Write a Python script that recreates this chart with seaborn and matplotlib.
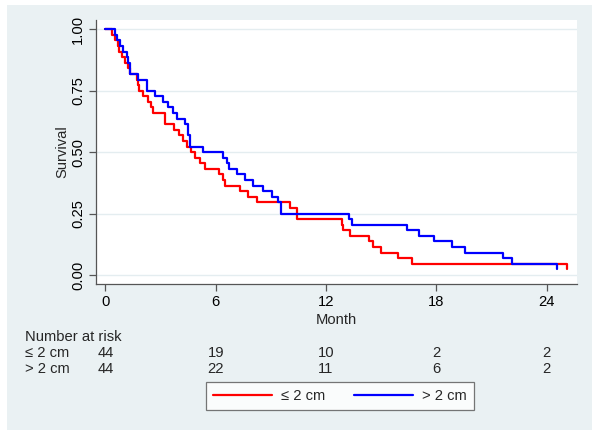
import numpy as np
import pandas as pd
import matplotlib
matplotlib.use("Agg")
import matplotlib.pyplot as plt
import matplotlib.transforms as mtransforms
from matplotlib.lines import Line2D
from matplotlib.patches import Rectangle
import seaborn as sns

N_START = 44

# Kaplan-Meier steps: event time (months) and patients left
red_months = [0, 0.38, 0.52, 0.67, 0.74, 0.88, 1.06, 1.24, 1.34, 1.70, 1.78, 1.85,
              2.06, 2.34, 2.46, 2.61, 3.24, 3.73, 4.00, 4.24, 4.42, 4.64, 4.87, 5.14,
              5.42, 6.19, 6.41, 6.50, 7.32, 7.77, 8.23, 10.04, 10.44, 12.85, 12.94,
              13.30, 14.33, 14.57, 14.99, 15.93, 16.65, 25.08]
red_alive = [44, 43, 42, 41, 40, 39, 38, 37, 36, 35, 34, 33,
             32, 31, 30, 29, 27, 26, 25, 24, 23, 22, 21, 20,
             19, 18, 17, 16, 15, 14, 13, 12, 10, 9, 8,
             7, 6, 5, 4, 3, 2, 1]

blue_months = [0, 0.52, 0.61, 0.79, 0.97, 1.15, 1.24, 1.34, 1.79, 2.24, 2.70, 3.15,
               3.42, 3.66, 3.88, 4.33, 4.51, 4.60, 5.32, 6.41, 6.60, 6.74, 7.14, 7.59,
               8.04, 8.59, 9.04, 9.40, 9.53, 13.26, 13.44, 16.38, 17.05, 17.88, 18.83,
               19.55, 21.64, 22.13, 24.57]
blue_alive = [44, 43, 42, 41, 40, 39, 38, 36, 35, 33, 32, 31,
              30, 29, 28, 27, 25, 23, 22, 21, 20, 19, 18, 17,
              16, 15, 14, 13, 11, 10, 9, 8, 7, 6, 5,
              4, 3, 2, 1]

groups = ["\u2264 2 cm", "> 2 cm"]
colors = ["#FF0000", "#0000FF"]

risk_months = [0, 6, 12, 18, 24]
risk_red = [44, 19, 10, 2, 2]
risk_blue = [44, 22, 11, 6, 2]

df = pd.concat([
    pd.DataFrame({"Month": red_months, "Survival": np.array(red_alive) / N_START, "Group": groups[0]}),
    pd.DataFrame({"Month": blue_months, "Survival": np.array(blue_alive) / N_START, "Group": groups[1]}),
])

sns.set_style("white")
plt.rcParams["font.family"] = ["Liberation Sans", "DejaVu Sans"]
FS = 10.6

BG = "#EAF1F3"
fig = plt.figure(figsize=(6, 4.4), dpi=100)
fig.patch.set_facecolor("white")
# stata-like light panel behind everything
fig.patches.append(Rectangle((7 / 600, 1 - 430 / 440), 585 / 600, 425 / 440,
                             transform=fig.transFigure, facecolor=BG, edgecolor="none", zorder=-1))

ax = fig.add_axes([96 / 600, 1 - 284 / 440, 481 / 600, 264 / 440])
ax.set_facecolor("white")

sns.lineplot(data=df, x="Month", y="Survival", hue="Group", palette=colors,
             drawstyle="steps-post", estimator=None, errorbar=None,
             linewidth=1.6, legend=False, ax=ax)

ax.set_xlim(-0.51, 25.65)
ax.set_ylim(-0.037, 1.038)
ax.set_xticks(risk_months)
ax.set_yticks([0, 0.25, 0.5, 0.75, 1.0])
ax.set_yticklabels(["0.00", "0.25", "0.50", "0.75", "1.00"], rotation=90, va="center")
ax.yaxis.grid(True, color="#E4EDF0", linewidth=1)
ax.xaxis.grid(False)
for side in ["top", "right"]:
    ax.spines[side].set_visible(False)
for side in ["left", "bottom"]:
    ax.spines[side].set_color("#555555")
    ax.spines[side].set_linewidth(0.9)
ax.tick_params(axis="both", direction="out", length=5, width=0.9, color="#555555",
               labelsize=FS, labelcolor="black", left=True, bottom=True, pad=3)
ax.set_xlabel("Month", fontsize=FS, labelpad=3)
ax.set_ylabel("Survival", fontsize=FS, labelpad=1)

# number at risk table
trans = mtransforms.blended_transform_factory(ax.transData, fig.transFigure)
fig.text(25 / 600, 1 - 337 / 440, "Number at risk", fontsize=FS, va="center")
fig.text(25 / 600, 1 - 353 / 440, groups[0], fontsize=FS, va="center")
fig.text(25 / 600, 1 - 369 / 440, groups[1], fontsize=FS, va="center")
for m, r, b in zip(risk_months, risk_red, risk_blue):
    ax.text(m, 1 - 353 / 440, str(r), transform=trans, ha="center", va="center", fontsize=FS)
    ax.text(m, 1 - 369 / 440, str(b), transform=trans, ha="center", va="center", fontsize=FS)

handles = [Line2D([], [], color=c, linewidth=1.6) for c in colors]
leg = fig.legend(handles, groups, loc="center", bbox_to_anchor=(340 / 600, 1 - 396 / 440),
                 ncol=2, frameon=True, fancybox=False, edgecolor="#555555",
                 handlelength=4.0, columnspacing=2.0, handletextpad=0.6,
                 borderpad=0.45, fontsize=FS)
leg.get_frame().set_linewidth(0.9)

fig.savefig("out.png", dpi=100, facecolor="white")
